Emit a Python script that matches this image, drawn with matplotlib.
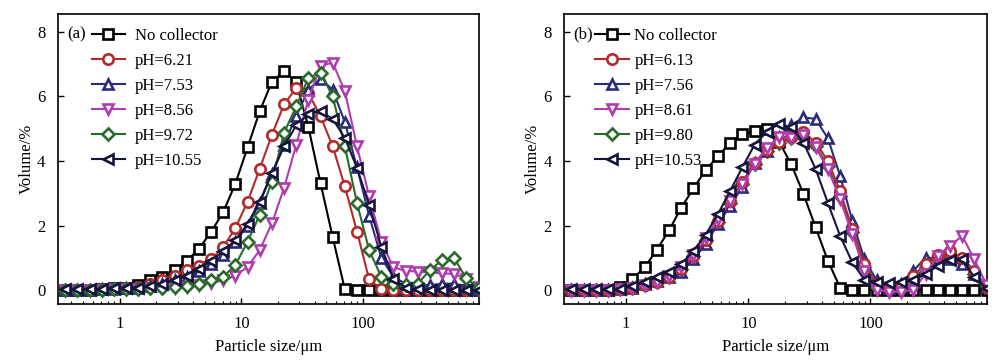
import matplotlib
matplotlib.use('Agg')
import matplotlib.pyplot as plt
from matplotlib.ticker import FixedLocator, LogLocator, NullFormatter

plt.rcParams['font.family'] = ['Liberation Serif', 'DejaVu Serif']
plt.rcParams['font.size'] = 12

# particle size bins (um)
sizes = [0.356, 0.448, 0.564, 0.710, 0.893, 1.125, 1.416, 1.783, 2.244, 2.825,
         3.557, 4.477, 5.637, 7.096, 8.934, 11.247, 14.159, 17.825, 22.440, 28.251,
         35.566, 44.774, 56.368, 70.963, 89.337, 112.468, 141.589, 178.250, 224.404, 282.508,
         355.656, 447.744, 563.677, 709.627, 893.367]

# panel (a)
labels_a = ['No collector', 'pH=6.21', 'pH=7.53', 'pH=8.56', 'pH=9.72', 'pH=10.55']
a_none = [0, 0, 0.01, 0.03, 0.05, 0.08, 0.15, 0.3, 0.4, 0.62,
          0.9, 1.28, 1.8, 2.42, 3.3, 4.42, 5.54, 6.45, 6.78, 6.43,
          5.05, 3.31, 1.64, 0.02, 0, 0, 0, 0, 0, 0,
          0, 0, 0, 0, 0]
a_621 = [0, 0, 0.01, 0.02, 0.04, 0.06, 0.1, 0.18, 0.3, 0.45,
         0.62, 0.76, 0.95, 1.34, 1.92, 2.74, 3.76, 4.81, 5.75, 6.26,
         6.1, 5.38, 4.45, 3.21, 1.81, 0.33, 0.02, 0, 0, 0,
         0, 0, 0, 0, 0]
a_753 = [0, 0, 0.01, 0.02, 0.03, 0.05, 0.08, 0.12, 0.2, 0.3,
         0.42, 0.58, 0.8, 1.1, 1.5, 2.0, 2.7, 3.6, 4.5, 5.4,
         6.2, 6.55, 6.2, 5.2, 3.8, 2.3, 1.0, 0.4, 0.2, 0.15,
         0.15, 0.2, 0.2, 0.1, 0.02]
a_856 = [0, 0, 0, 0.01, 0.02, 0.03, 0.04, 0.05, 0.06, 0.08,
         0.1, 0.15, 0.22, 0.3, 0.45, 0.72, 1.24, 2.07, 3.16, 4.5,
         5.9, 6.95, 7.04, 6.16, 4.45, 2.9, 1.5, 0.7, 0.6, 0.57,
         0.55, 0.52, 0.5, 0.35, 0.1]
a_972 = [0, 0, 0, 0.01, 0.02, 0.03, 0.04, 0.05, 0.07, 0.1,
         0.12, 0.2, 0.3, 0.41, 0.78, 1.5, 2.33, 3.36, 4.87, 5.69,
         6.57, 6.73, 6.0, 4.45, 2.69, 1.24, 0.41, 0.2, 0.15, 0.2,
         0.62, 0.93, 0.98, 0.36, 0.05]
a_1055 = [0.02, 0.03, 0.03, 0.04, 0.05, 0.06, 0.08, 0.12, 0.2, 0.3,
          0.45, 0.65, 0.9, 1.2, 1.55, 2.05, 2.74, 3.62, 4.45, 5.1,
          5.45, 5.54, 5.3, 4.71, 3.78, 2.64, 1.34, 0.35, 0.08, 0.02,
          0, 0, 0, 0, 0]

# panel (b)
labels_b = ['No collector', 'pH=6.13', 'pH=7.56', 'pH=8.61', 'pH=9.80', 'pH=10.53']
b_none = [0, 0, 0, 0, 0.1, 0.35, 0.7, 1.25, 1.85, 2.55,
          3.15, 3.72, 4.14, 4.57, 4.83, 4.93, 4.98, 4.6, 3.9, 2.98,
          1.94, 0.91, 0.08, 0, 0, 0, 0, 0, 0, 0,
          0, 0, 0, 0, 0]
b_613 = [0, 0, 0, 0.01, 0.03, 0.08, 0.15, 0.25, 0.4, 0.65,
         1.05, 1.55, 2.15, 2.75, 3.35, 3.95, 4.35, 4.6, 4.75, 4.88,
         4.57, 4.0, 3.07, 1.9, 0.8, 0.2, 0.05, 0.1, 0.45, 0.8,
         1.1, 1.2, 1.0, 0.6, 0.1]
b_756 = [0, 0, 0, 0.01, 0.02, 0.08, 0.18, 0.28, 0.4, 0.55,
         0.96, 1.42, 2.04, 2.6, 3.2, 3.95, 4.31, 4.75, 5.1, 5.35,
         5.3, 4.7, 3.54, 2.15, 0.95, 0.3, 0.05, 0.2, 0.6, 1.0,
         1.0, 0.95, 0.8, 0.5, 0.1]
b_861 = [0, 0, 0, 0.01, 0.03, 0.08, 0.15, 0.25, 0.45, 0.7,
         1.1, 1.6, 2.2, 2.75, 3.28, 3.9, 4.4, 4.75, 4.7, 4.8,
         4.42, 3.75, 2.82, 1.73, 0.6, 0.0, -0.05, -0.05, 0.0, 0.5,
         1.06, 1.37, 1.68, 0.95, 0.15]
b_980 = [0, 0, 0, 0.01, 0.03, 0.08, 0.15, 0.25, 0.42, 0.66,
         1.05, 1.55, 2.12, 2.7, 3.3, 3.9, 4.3, 4.55, 4.7, 4.75,
         4.45, 3.85, 2.9, 1.8, 0.7, 0.1, 0.0, 0.05, 0.35, 0.7,
         0.95, 1.05, 0.9, 0.5, 0.1]
b_1053 = [0.02, 0.02, 0.02, 0.02, 0.03, 0.12, 0.25, 0.4, 0.55, 0.8,
          1.22, 1.72, 2.35, 3.07, 3.8, 4.5, 4.9, 5.15, 5.04, 4.57,
          3.75, 2.7, 1.68, 0.86, 0.32, 0.24, 0.22, 0.24, 0.3, 0.5,
          0.75, 0.92, 0.95, 0.4, 0.05]

colors = ['#000000', '#b32a2a', '#2b2b7c', '#b03cb0', '#2a6a2a', '#15153e']
markers = ['s', 'o', '^', 'v', 'D', '<']
msizes = [7, 7.5, 7.5, 7.5, 6, 7.5]


def draw_panel(ax, series, labels, tag, zorders, leg_x, textpad):
    for i, ys in enumerate(series):
        ax.plot(sizes, ys, color=colors[i], marker=markers[i], ms=msizes[i],
                mfc='white', mec=colors[i], mew=1.9, lw=1.5, label=labels[i],
                zorder=zorders[i])
    ax.set_xscale('log')
    ax.set_xlim(0.31, 900)
    ax.set_ylim(-0.43, 8.55)
    ax.yaxis.set_major_locator(FixedLocator([0, 2, 4, 6, 8]))
    ax.xaxis.set_major_locator(FixedLocator([1, 10, 100]))
    ax.xaxis.set_major_formatter(plt.FuncFormatter(lambda v, p: f'{v:g}'))
    ax.xaxis.set_minor_locator(LogLocator(base=10, subs=range(2, 10)))
    ax.xaxis.set_minor_formatter(NullFormatter())
    ax.tick_params(which='major', direction='in', length=4, width=1, labelsize=12)
    ax.tick_params(which='minor', direction='in', length=2.5, width=0.8)
    ax.tick_params(axis='x', pad=9)
    ax.tick_params(axis='y', pad=9)
    for s in ax.spines.values():
        s.set_linewidth(1.2)
    ax.set_xlabel('Particle size/μm', fontsize=12, labelpad=5)
    ax.set_ylabel('Volume/%', fontsize=12, labelpad=2)
    ax.text(0.022, 0.928, tag, transform=ax.transAxes, fontsize=12, va='center', ha='left')
    ax.legend(loc='upper left', bbox_to_anchor=(leg_x, 0.968), frameon=False,
              fontsize=12, handlelength=2.0, handletextpad=textpad, labelspacing=0.54,
              borderaxespad=0, borderpad=0.3)


fig = plt.figure(figsize=(9.96, 3.6), dpi=100)
ax_a = fig.add_axes([0.0582, 0.1556, 0.4227, 0.8056])
ax_b = fig.add_axes([0.5663, 0.1556, 0.4247, 0.8056])

draw_panel(ax_a, [a_none, a_621, a_753, a_856, a_972, a_1055], labels_a, '(a)',
           [2, 3, 4, 5, 6, 7], 0.068, 0.6)
draw_panel(ax_b, [b_none, b_613, b_756, b_861, b_980, b_1053], labels_b, '(b)',
           [2, 5, 4, 6, 3, 7], 0.062, 0.35)

fig.savefig('out.png', dpi=100)
plt.close(fig)
